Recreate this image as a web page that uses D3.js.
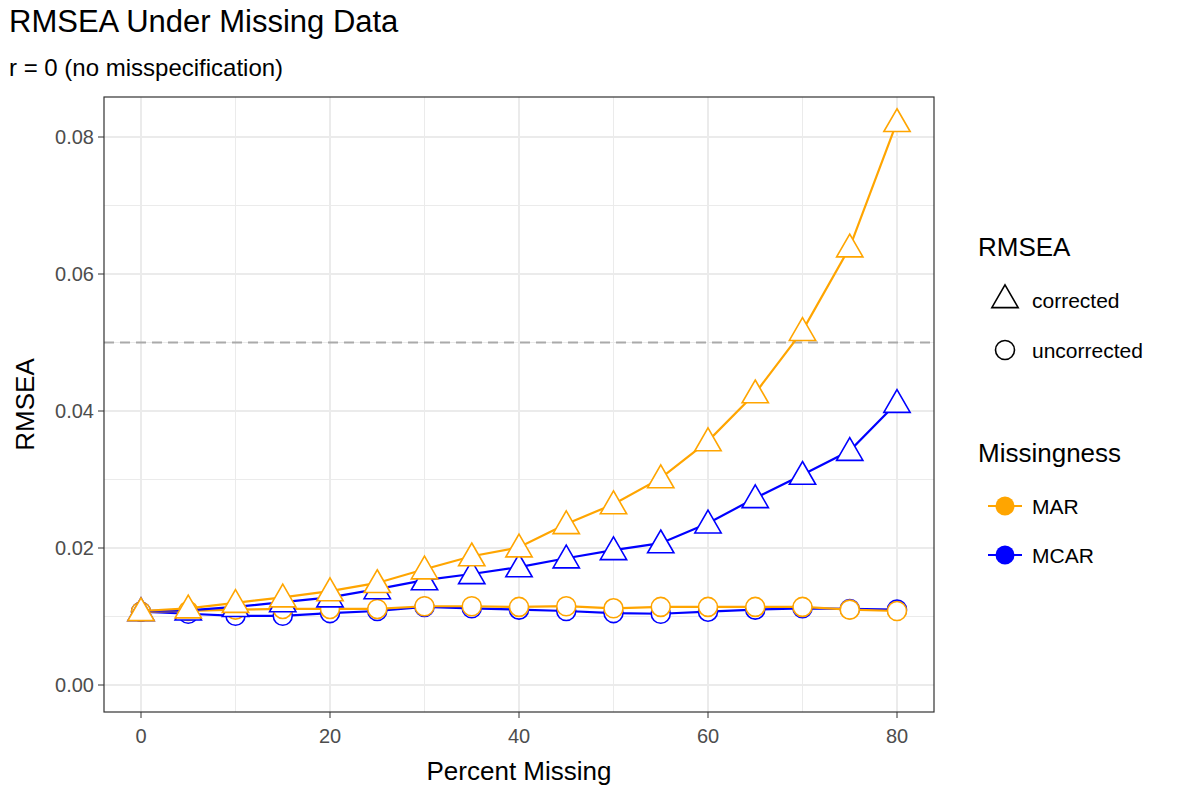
<!DOCTYPE html>
<html><head><meta charset="utf-8">
<script src="https://cdn.jsdelivr.net/npm/d3@7"></script>
<style>body{margin:0;background:#fff;font-family:"Liberation Sans",Arial,sans-serif}</style>
</head><body><svg id="chart" width="1181" height="789"></svg>
<script>
// data
const pctMissing = [0,5,10,15,20,25,30,35,40,45,50,55,60,65,70,75,80];
const marCorrected = [0.0108,0.0112,0.0120,0.0128,0.0137,0.0149,0.0169,0.0188,0.0201,0.0235,0.0264,0.0302,0.0356,0.0426,0.0517,0.0639,0.0822];
const mcarCorrected = [0.0108,0.0109,0.0114,0.0121,0.0128,0.0140,0.0153,0.0162,0.0172,0.0185,0.0197,0.0207,0.0236,0.0273,0.0307,0.0342,0.0412];
const marUncorrected = [0.0107,0.0108,0.0110,0.0111,0.0111,0.0111,0.0115,0.0115,0.0114,0.0115,0.0112,0.0114,0.0114,0.0114,0.0114,0.0110,0.0108];
const mcarUncorrected = [0.0107,0.0104,0.0101,0.0101,0.0105,0.0108,0.0114,0.0112,0.0110,0.0108,0.0105,0.0104,0.0107,0.0110,0.0112,0.0111,0.0110];
const xTicks = [0,20,40,60,80];
const yTicks = [0,0.02,0.04,0.06,0.08];
const refLine = 0.05;

const svg = d3.select('#chart');
const panel = {left:104, right:934, top:97, bottom:712};
const x = d3.scaleLinear().domain([0,80]).range([141,897]);
const y = d3.scaleLinear().domain([0,0.08]).range([685,137]);
const orange = '#FFA500', blue = '#0000FF';

// gridlines
[10,30,50,70].forEach(v => svg.append('line').attr('x1',x(v)).attr('x2',x(v)).attr('y1',panel.top).attr('y2',panel.bottom).attr('stroke','#ebebeb').attr('stroke-width',1));
[0.01,0.03,0.05,0.07].forEach(v => svg.append('line').attr('y1',y(v)).attr('y2',y(v)).attr('x1',panel.left).attr('x2',panel.right).attr('stroke','#ebebeb').attr('stroke-width',1));
xTicks.forEach(v => svg.append('line').attr('x1',x(v)).attr('x2',x(v)).attr('y1',panel.top).attr('y2',panel.bottom).attr('stroke','#ebebeb').attr('stroke-width',2));
yTicks.forEach(v => svg.append('line').attr('y1',y(v)).attr('y2',y(v)).attr('x1',panel.left).attr('x2',panel.right).attr('stroke','#ebebeb').attr('stroke-width',2));

svg.append('line').attr('x1',panel.left).attr('x2',panel.right).attr('y1',y(refLine)).attr('y2',y(refLine))
    .attr('stroke','#aaa').attr('stroke-width',2).attr('stroke-dasharray','10,6');

const line = d3.line().x((d,i) => x(pctMissing[i])).y(d => y(d));
const tri = d3.symbol().type(d3.symbolTriangle).size(300);

function series(vals, col, shape){
    svg.append('path').attr('d', line(vals)).attr('fill','none').attr('stroke',col).attr('stroke-width',2.2);
    vals.forEach((v,i) => {
        if (shape === 'tri'){
            svg.append('path').attr('d', tri()).attr('transform',`translate(${x(pctMissing[i])},${y(v)+2})`)
                .attr('fill','#fff').attr('stroke',col).attr('stroke-width',1.6);
        } else {
            svg.append('circle').attr('cx',x(pctMissing[i])).attr('cy',y(v)).attr('r',9.5)
                .attr('fill','#fff').attr('stroke',col).attr('stroke-width',1.6);
        }
    });
}
series(mcarUncorrected, blue, 'circ');
series(marUncorrected, orange, 'circ');
series(mcarCorrected, blue, 'tri');
series(marCorrected, orange, 'tri');

svg.append('rect').attr('x',panel.left).attr('y',panel.top).attr('width',panel.right-panel.left).attr('height',panel.bottom-panel.top)
    .attr('fill','none').attr('stroke','#333').attr('stroke-width',1.2);

// axes ticks and labels
xTicks.forEach(v => {
    svg.append('line').attr('x1',x(v)).attr('x2',x(v)).attr('y1',panel.bottom).attr('y2',panel.bottom+6).attr('stroke','#333');
    svg.append('text').attr('x',x(v)).attr('y',panel.bottom+31).attr('text-anchor','middle').attr('font-size',20).attr('fill','#4d4d4d').text(v);
});
yTicks.forEach(v => {
    svg.append('line').attr('x1',panel.left-6).attr('x2',panel.left).attr('y1',y(v)).attr('y2',y(v)).attr('stroke','#333');
    svg.append('text').attr('x',panel.left-10).attr('y',y(v)+7).attr('text-anchor','end').attr('font-size',20).attr('fill','#4d4d4d').text(v.toFixed(2));
});
svg.append('text').attr('x',(panel.left+panel.right)/2).attr('y',780).attr('text-anchor','middle').attr('font-size',26).text('Percent Missing');
svg.append('text').attr('transform',`translate(34,${(panel.top+panel.bottom)/2}) rotate(-90)`).attr('text-anchor','middle').attr('font-size',26).text('RMSEA');
svg.append('text').attr('x',9).attr('y',32).attr('font-size',31).text('RMSEA Under Missing Data');
svg.append('text').attr('x',9).attr('y',76).attr('font-size',24).text('r = 0 (no misspecification)');

// legends
svg.append('text').attr('x',978).attr('y',256).attr('font-size',26).text('RMSEA');
svg.append('path').attr('d',tri()).attr('transform','translate(1005,300)').attr('fill','#fff').attr('stroke','#000').attr('stroke-width',1.6);
svg.append('text').attr('x',1032).attr('y',308).attr('font-size',21).text('corrected');
svg.append('circle').attr('cx',1005).attr('cy',350).attr('r',9.5).attr('fill','#fff').attr('stroke','#000').attr('stroke-width',1.6);
svg.append('text').attr('x',1032).attr('y',358).attr('font-size',21).text('uncorrected');
svg.append('text').attr('x',978).attr('y',462).attr('font-size',26).text('Missingness');
[['MAR',orange,506],['MCAR',blue,555]].forEach(([lab,col,cy]) => {
    svg.append('line').attr('x1',988).attr('x2',1022).attr('y1',cy).attr('y2',cy).attr('stroke',col).attr('stroke-width',2.2);
    svg.append('circle').attr('cx',1005).attr('cy',cy).attr('r',9.5).attr('fill',col);
    svg.append('text').attr('x',1032).attr('y',cy+8).attr('font-size',21).text(lab);
});
</script></body></html>
